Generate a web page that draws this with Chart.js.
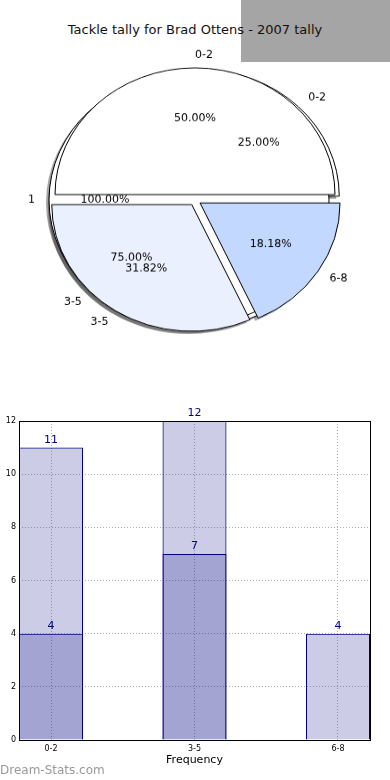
<!DOCTYPE html>
<html lang="en">
<head>
  <meta charset="UTF-8" />
  <title>Tackle tally for Brad Ottens - 2007 tally</title>
  <style>
    body {
      margin: 0;
      width: 390px;
      height: 780px;
      position: relative;
      overflow: hidden;
      background: #fff;
      font-family: 'DejaVu Sans', sans-serif;
    }
    .grey-box {
      position: absolute;
      left: 241px;
      top: 0;
      width: 149px;
      height: 62px;
      background: #a5a5a5;
    }
    .title {
      position: absolute;
      left: 0;
      top: 22px;
      width: 390px;
      text-align: center;
      font-size: 13px;
      line-height: 16px;
      color: #111;
    }
    .pie-wrap {
      position: absolute;
      left: 0;
      top: 20px;
      width: 390px;
      height: 360px;
      transform-origin: 50% 50%;
    }
    .pie-wrap canvas {
      position: absolute;
      left: 0;
      top: 0;
    }
    .pie-wrap canvas.shadow {
      left: -3px;
      top: 3px;
    }
    #barChart {
      position: absolute;
      left: 0;
      top: 400px;
    }
    .watermark {
      position: absolute;
      left: 0;
      top: 763px;
      font-size: 12px;
      color: #999;
    }
  </style>
</head>
<body>
  <div class="grey-box"></div>
  <div class="title">Tackle tally for Brad Ottens - 2007 tally</div>

  <div class="pie-wrap" id="pieWrap">
    <canvas class="shadow" id="shadowB" width="390" height="360"></canvas>
    <canvas class="shadow" id="shadowC" width="390" height="360"></canvas>
    <canvas class="shadow" id="shadowA" width="390" height="360"></canvas>
    <canvas id="pieB" width="390" height="360"></canvas>
    <canvas id="pieC" width="390" height="360"></canvas>
    <canvas id="pieA" width="390" height="360"></canvas>
  </div>

  <canvas id="barChart" width="390" height="380"></canvas>
  <div class="watermark">Dream-Stats.com</div>

  <script src="https://cdn.jsdelivr.net/npm/chart.js"></script>
  <script>
    // pie data (three pies drawn on top of each other)
    const pieALabels = ["0-2", "3-5", "6-8"];
    const pieAValues = [11, 7, 4];
    const pieBLabels = ["0-2", "3-5"];
    const pieBValues = [4, 12];
    const pieCLabels = ["1"];
    const pieCValues = [1];

    // bar data
    const barLabels = ["0-2", "3-5", "6-8"];
    const barTotals = [11, 12, 4];
    const barInner = [4, 7, 0];
    const yTicks = [0, 2, 4, 6, 8, 10, 12];

    const SQUASH = 0.905;
    const EXPLODE = 6;
    const RADIUS = 140;
    document.getElementById("pieWrap").style.transform = "scaleY(" + SQUASH + ")";

    // push every slice out along its middle angle
    const explodePlugin = {
      id: "explode",
      afterDatasetsUpdate(chart) {
        chart.getDatasetMeta(0).data.forEach((arc) => {
          const mid = (arc.startAngle + arc.endAngle) / 2;
          arc.x += Math.cos(mid) * EXPLODE;
          arc.y += Math.sin(mid) * EXPLODE;
        });
      }
    };

    // outline for a single full-circle slice (no radial line)
    const ringPlugin = {
      id: "ring",
      afterDatasetsDraw(chart) {
        const ctx = chart.ctx;
        ctx.save();
        ctx.strokeStyle = "#000";
        ctx.lineWidth = 1;
        chart.getDatasetMeta(0).data.forEach((arc) => {
          ctx.beginPath();
          ctx.arc(arc.x, arc.y, arc.outerRadius, 0, Math.PI * 2);
          ctx.stroke();
        });
        ctx.restore();
      }
    };

    function makePie(id, labels, values, colors, shadow, ring) {
      const plugins = [explodePlugin];
      if (ring && !shadow) plugins.push(ringPlugin);
      return new Chart(document.getElementById(id), {
        type: "pie",
        data: {
          labels: labels.slice().reverse(),
          datasets: [{
            data: values.slice().reverse(),
            backgroundColor: shadow ? "rgba(77,77,77,0.5)" : colors.slice().reverse(),
            borderColor: "#000",
            borderWidth: (shadow || ring) ? 0 : 1,
            radius: RADIUS,
            rotation: 90
          }]
        },
        options: {
          responsive: false,
          animation: false,
          events: [],
          rotation: 90,
          layout: { padding: 0 },
          plugins: { legend: { display: false }, tooltip: { enabled: false } }
        },
        plugins: plugins
      });
    }

    const colorsA = ["#ffffff", "#eaf0fe", "#c3d8ff"];
    const colorsB = ["#ffffff", "#ffffff"];
    const colorsC = ["#ffffff"];

    makePie("shadowB", pieBLabels, pieBValues, colorsB, true, false);
    makePie("shadowC", pieCLabels, pieCValues, colorsC, true, true);
    makePie("shadowA", pieALabels, pieAValues, colorsA, true, false);
    const pieB = makePie("pieB", pieBLabels, pieBValues, colorsB, false, false);
    const pieC = makePie("pieC", pieCLabels, pieCValues, colorsC, false, true);

    function putText(ctx, text, x, y, align) {
      ctx.save();
      ctx.translate(x, y);
      ctx.scale(1, 1 / SQUASH);
      ctx.textAlign = align;
      ctx.fillText(text, 0, 0);
      ctx.restore();
    }

    // labels of all three pies, drawn on the top canvas
    const pieLabelPlugin = {
      id: "pieLabels",
      afterDraw(chart) {
        const ctx = chart.ctx;
        ctx.save();
        ctx.font = '11px "DejaVu Sans"';
        ctx.fillStyle = "#000";
        ctx.textBaseline = "middle";
        [pieB, pieC, chart].forEach((p) => {
          const values = p.data.datasets[0].data;
          const total = values.reduce((a, b) => a + b, 0);
          p.getDatasetMeta(0).data.forEach((arc, i) => {
            const mid = (arc.startAngle + arc.endAngle) / 2;
            const c = Math.cos(mid), s = Math.sin(mid);
            const r = arc.outerRadius;
            putText(ctx, p.data.labels[i], arc.x + c * 1.1 * r, arc.y + s * 1.1 * r, c > -1e-6 ? "left" : "right");
            const pct = (values[i] / total * 100).toFixed(2) + "%";
            putText(ctx, pct, arc.x + c * 0.6 * r, arc.y + s * 0.6 * r, "center");
          });
        });
        ctx.restore();
      }
    };

    new Chart(document.getElementById("pieA"), {
      type: "pie",
      data: {
        labels: pieALabels.slice().reverse(),
        datasets: [{
          data: pieAValues.slice().reverse(),
          backgroundColor: colorsA.slice().reverse(),
          borderColor: "#000",
          borderWidth: 1,
          radius: RADIUS,
          rotation: 90
        }]
      },
      options: {
        responsive: false,
        animation: false,
        events: [],
        rotation: 90,
        layout: { padding: 0 },
        plugins: { legend: { display: false }, tooltip: { enabled: false } }
      },
      plugins: [explodePlugin, pieLabelPlugin]
    });

    // ---- bar chart ----
    const barW = 0.446;

    const barValuePlugin = {
      id: "barValues",
      afterDatasetsDraw(chart) {
        const ctx = chart.ctx;
        ctx.save();
        ctx.font = '11px "DejaVu Sans"';
        ctx.fillStyle = "#000080";
        ctx.textAlign = "center";
        ctx.textBaseline = "bottom";
        chart.data.datasets.forEach((ds, di) => {
          chart.getDatasetMeta(di).data.forEach((bar, i) => {
            const v = ds.data[i].y;
            if (v > 0) ctx.fillText(String(v), bar.x, bar.y - 2);
          });
        });
        ctx.restore();
      }
    };

    const framePlugin = {
      id: "frame",
      afterDraw(chart) {
        const a = chart.chartArea;
        const ctx = chart.ctx;
        ctx.save();
        ctx.strokeStyle = "#000";
        ctx.lineWidth = 1;
        ctx.strokeRect(Math.round(a.left) + 0.5, Math.round(a.top) + 0.5, Math.round(a.right - a.left), Math.round(a.bottom - a.top));
        ctx.restore();
      }
    };

    const barStyle = {
      backgroundColor: "rgba(0,0,128,0.2)",
      borderColor: "#000080",
      borderWidth: 1,
      grouped: false,
      barPercentage: 1,
      categoryPercentage: barW
    };

    new Chart(document.getElementById("barChart"), {
      type: "bar",
      data: {
        datasets: [
          Object.assign({ data: barInner.map((v, i) => ({ x: i, y: v })) }, barStyle),
          Object.assign({ data: barTotals.map((v, i) => ({ x: i, y: v })) }, barStyle)
        ]
      },
      options: {
        responsive: false,
        animation: false,
        events: [],
        layout: { padding: { left: 0, right: 20, top: 21, bottom: 0 } },
        plugins: { legend: { display: false }, tooltip: { enabled: false } },
        scales: {
          x: {
            type: "linear",
            offset: false,
            min: -barW / 2,
            max: barLabels.length - 1 + barW / 2,
            z: 1,
            afterBuildTicks: (s) => { s.ticks = barLabels.map((_, i) => ({ value: i })); },
            afterFit: (s) => { s.height = 40; },
            ticks: {
              callback: (v) => barLabels[v],
              font: { family: "DejaVu Sans", size: 8 },
              color: "#000",
              padding: 4,
              maxRotation: 0
            },
            grid: { color: "#b0b0b0", drawTicks: false, offset: false },
            border: { display: false, dash: [1, 2] },
            title: {
              display: true,
              text: "Frequency",
              font: { family: "DejaVu Sans", size: 11 },
              color: "#000",
              padding: { top: 0, bottom: 13 }
            }
          },
          y: {
            min: 0,
            max: 12,
            z: 1,
            afterBuildTicks: (s) => { s.ticks = yTicks.map((v) => ({ value: v })); },
            afterFit: (s) => { s.width = 19; },
            ticks: {
              font: { family: "DejaVu Sans", size: 8 },
              color: "#000",
              padding: 3
            },
            grid: { color: "#b0b0b0", drawTicks: false },
            border: { display: false, dash: [1, 2] }
          }
        }
      },
      plugins: [barValuePlugin, framePlugin]
    });
  </script>
</body>
</html>
